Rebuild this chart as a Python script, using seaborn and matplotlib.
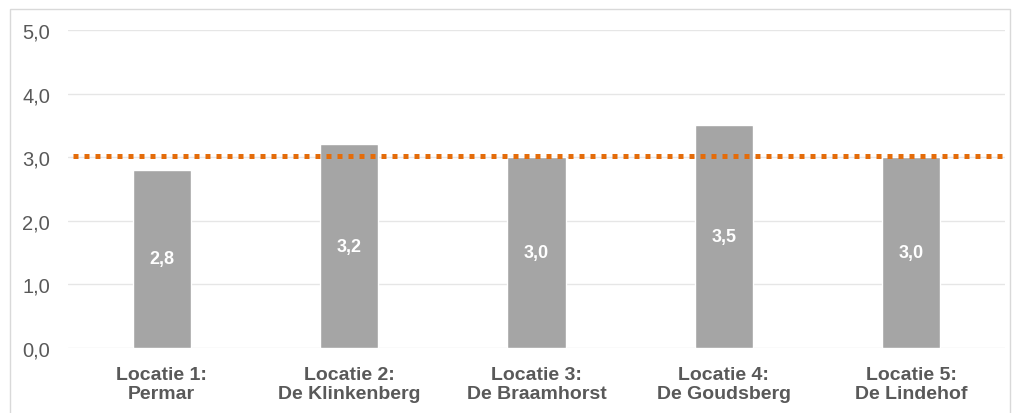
import matplotlib
matplotlib.use("Agg")
import matplotlib.pyplot as plt
import matplotlib.patches as mpatches
import seaborn as sns
import pandas as pd

locaties = ["Locatie 1:\nPermar", "Locatie 2:\nDe Klinkenberg", "Locatie 3:\nDe Braamhorst",
            "Locatie 4:\nDe Goudsberg", "Locatie 5:\nDe Lindehof"]
scores = [2.8, 3.2, 3.0, 3.5, 3.0]
norm = 3.02
y_ticks = [0, 1, 2, 3, 4, 5]

sns.set_theme(style="white")
plt.rcParams["font.family"] = ["Liberation Sans", "DejaVu Sans"]

df = pd.DataFrame({"locatie": locaties, "score": scores})

fig = plt.figure(figsize=(10.14, 4.14), dpi=100)
ax = fig.add_axes([68 / 1014, 65 / 414, (1005 - 68) / 1014, (349 - 31) / 414])

sns.barplot(data=df, x="locatie", y="score", color="#A5A5A5", saturation=1,
            width=0.31, ax=ax, zorder=2)

ax.set_ylim(0, 5)
ax.set_xlim(-0.5, len(locaties) - 0.5)
ax.set_yticks(y_ticks)
ax.set_yticklabels([f"{v:.1f}".replace(".", ",") for v in y_ticks], color="#595959", fontsize=14.5)
ax.yaxis.grid(True, color="#E6E6E6", linewidth=1, zorder=0)
ax.set_axisbelow(True)
for s in ax.spines.values():
    s.set_visible(False)
ax.tick_params(axis="y", length=0, pad=13)
ax.tick_params(axis="x", length=0, pad=13)
ax.set_xticks(range(len(locaties)))
ax.set_xticklabels(locaties, fontsize=14, fontweight="bold", color="#595959", linespacing=1.12)
ax.set_xlabel("")
ax.set_ylabel("")

for i, v in enumerate(scores):
    ax.text(i, v / 2, f"{v:.1f}".replace(".", ","), ha="center", va="center",
            color="white", fontsize=13, fontweight="bold", zorder=3)

ax.axhline(norm, xmin=0.005, xmax=1.0, color="#E46C0A", linewidth=3.6,
           linestyle=(0, (1.0, 1.2)), zorder=4)

fig.patches.append(mpatches.Rectangle((10 / 1014, -0.05), 1000 / 1014, 1 - 10 / 414 + 0.05,
                                      transform=fig.transFigure, fill=False,
                                      edgecolor="#D9D9D9", linewidth=1))

fig.savefig("out.png", dpi=100, facecolor="white")
